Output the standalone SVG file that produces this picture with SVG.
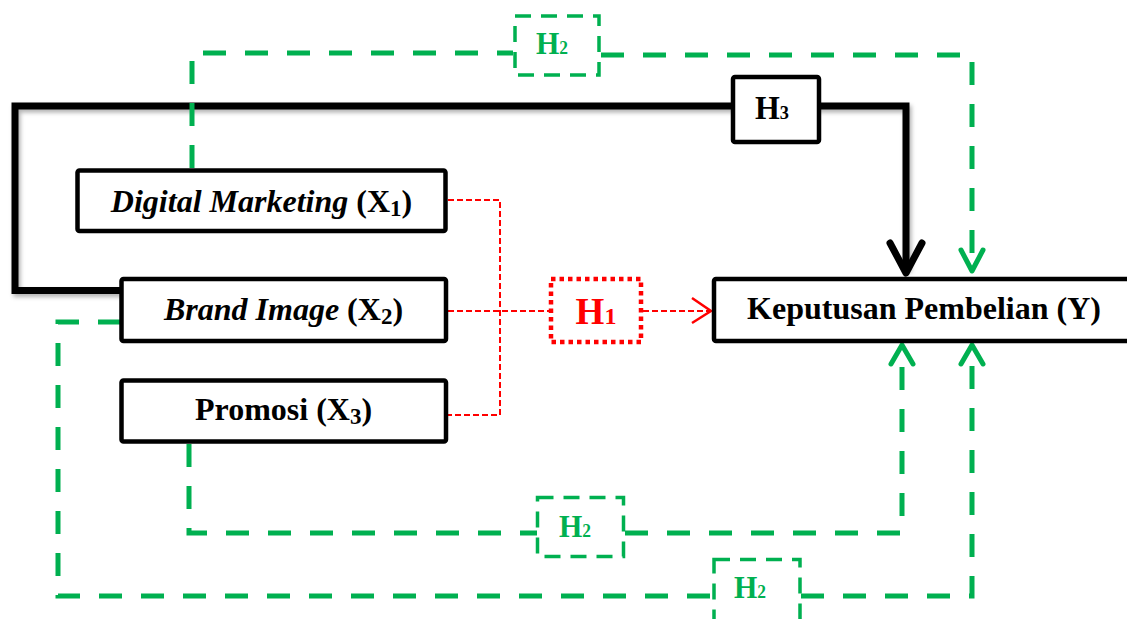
<svg xmlns="http://www.w3.org/2000/svg" width="1127" height="619" viewBox="0 0 1127 619">
<defs>
<style>
.box{fill:#fff;stroke:#000;stroke-width:4.5;}
.lbl{font-family:"Liberation Serif","Times New Roman",serif;font-weight:bold;fill:#000;text-anchor:middle;}
.g{fill:none;stroke:#00B050;stroke-width:5;stroke-dasharray:23 19;}
.gh{fill:none;stroke:#00B050;stroke-width:5;stroke-linecap:round;stroke-linejoin:round;}
.gbox{fill:#fff;stroke:#00B050;stroke-width:3.5;stroke-dasharray:16 10;}
.gt{font-family:"Liberation Serif","Times New Roman",serif;font-weight:bold;fill:#00B050;text-anchor:middle;}
.r{fill:none;stroke:#FF0000;stroke-width:2;stroke-dasharray:6 3;}
</style>
<filter id="sh" x="-5%" y="-5%" width="110%" height="120%">
<feDropShadow dx="2" dy="3" stdDeviation="2" flood-color="#000" flood-opacity="0.3"/>
</filter>
</defs>

<g id="connectors">
<!-- H3 black loop -->
<path d="M121 290.5 H15 V106 H906 V270" fill="none" stroke="#000" stroke-width="7" filter="url(#sh)"/>
<path d="M890 243 L906 273 L922 243" fill="none" stroke="#000" stroke-width="7" stroke-linecap="round" stroke-linejoin="round"/>
<!-- red H1 -->
<path class="r" d="M448 200 H500 V415 H448"/>
<path class="r" d="M448 311 H551" stroke-width="2.5"/>
<path class="r" d="M643 311 H710" stroke-width="2.5"/>
<path d="M692 298 L711 311 L692 323" fill="none" stroke="#FF0000" stroke-width="2.5"/>
<!-- green H2 top (X1) -->
<path class="g" d="M192 168 V53 H513"/>
<path class="g" d="M601 55 H972 V268"/>
<path class="gh" d="M961 250 L972 271 L983 250"/>
<!-- green H2 (X3) -->
<path class="g" d="M189 444 V533 H537"/>
<path class="g" d="M625 533 H902 V350"/>
<path class="gh" d="M891 364 L902 345 L913 364"/>
<!-- green H2 (X2) -->
<path class="g" d="M121 322 H58 V596 H713"/>
<path class="g" d="M801 596 H972 V350"/>
<path class="gh" d="M961 364 L972 345 L983 364"/>
</g>

<g id="node-x1">
<rect class="box" x="77.5" y="170.5" width="368" height="60.5" rx="2"/>
<text class="lbl" x="261.5" y="212" font-size="32"><tspan font-style="italic">Digital Marketing</tspan> (X<tspan font-size="23" dy="4">1</tspan><tspan dy="-4">)</tspan></text>
</g>

<g id="node-x2">
<rect class="box" x="121.5" y="279" width="324.5" height="62" rx="2"/>
<text class="lbl" x="283.5" y="320" font-size="32"><tspan font-style="italic">Brand Image</tspan> (X<tspan font-size="23" dy="4">2</tspan><tspan dy="-4">)</tspan></text>
</g>

<g id="node-x3">
<rect class="box" x="121.5" y="380.5" width="324.5" height="61" rx="2"/>
<text class="lbl" x="283.5" y="420" font-size="32">Promosi (X<tspan font-size="23" dy="4">3</tspan><tspan dy="-4">)</tspan></text>
</g>

<g id="node-y">
<rect class="box" x="714" y="279" width="440" height="62" rx="2"/>
<text class="lbl" x="924" y="319" font-size="32">Keputusan Pembelian (Y)</text>
</g>

<g id="h1">
<rect x="551" y="279" width="90" height="63" fill="#fff" stroke="#FF0000" stroke-width="4.5" stroke-dasharray="4.5 4"/>
<text x="596" y="324" font-size="37" font-family="Liberation Serif, Times New Roman, serif" font-weight="bold" fill="#FF0000" text-anchor="middle">H<tspan font-size="24">1</tspan></text>
</g>

<g id="h3">
<rect class="box" x="733" y="77" width="86" height="65" rx="2"/>
<text class="lbl" x="772" y="119" font-size="33" textLength="34" lengthAdjust="spacingAndGlyphs">H<tspan font-size="19">3</tspan></text>
</g>

<g id="h2-x1">
<rect class="gbox" x="515" y="16" width="84" height="59"/>
<text class="gt" x="552" y="54" font-size="31" textLength="32" lengthAdjust="spacingAndGlyphs">H<tspan font-size="18">2</tspan></text>
</g>

<g id="h2-x3">
<rect class="gbox" x="537.5" y="497.5" width="86" height="59"/>
<text class="gt" x="575" y="537" font-size="31" textLength="32" lengthAdjust="spacingAndGlyphs">H<tspan font-size="18">2</tspan></text>
</g>

<g id="h2-x2">
<rect class="gbox" x="714" y="559.5" width="86" height="64"/>
<text class="gt" x="750" y="598" font-size="31" textLength="32" lengthAdjust="spacingAndGlyphs">H<tspan font-size="18">2</tspan></text>
</g>
</svg>
